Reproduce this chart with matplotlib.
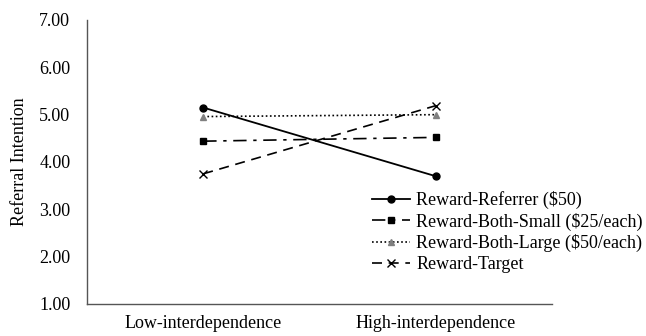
import matplotlib.pyplot as plt

plt.rcParams['font.family'] = ['Liberation Serif', 'DejaVu Serif']

conditions = ['Low-interdependence', 'High-interdependence']
referrer = [5.15, 3.70]
both_small = [4.44, 4.52]
both_large = [4.96, 5.00]
target = [3.75, 5.19]

fig = plt.figure(figsize=(6.46, 3.36), dpi=100)
ax = fig.add_axes([87 / 646, 32 / 336, 465 / 646, 284 / 336])

x = [0, 1]
ax.plot(x, referrer, color='black', lw=1.3, ls='-', marker='o', ms=5,
        label='Reward-Referrer ($50)')
ax.plot(x, both_small, color='black', lw=1.2, ls=(0, (8, 4, 2, 4)), marker='s', ms=5,
        label='Reward-Both-Small ($25/each)')
ax.plot(x, both_large, color='black', lw=1.2, ls=(0, (1, 1.5)), marker='^', ms=4.5,
        mfc='#808080', mec='#808080', label='Reward-Both-Large ($50/each)')
ax.plot(x, target, color='black', lw=1.2, ls=(0, (6, 4)), marker='x', ms=6,
        mew=1.0, label='Reward-Target')

ax.set_xlim(-0.5, 1.5)
ax.set_ylim(1, 7)
ax.set_xticks(x)
ax.set_xticklabels(conditions, fontsize=13)
ax.set_yticks([1, 2, 3, 4, 5, 6, 7])
ax.set_yticklabels(['%.2f' % v for v in range(1, 8)], fontsize=13)
ax.tick_params(axis='y', length=0, pad=12)
ax.tick_params(axis='x', length=0, pad=8)
ax.set_ylabel('Referral Intention', fontsize=13, labelpad=8)

for side in ['top', 'right']:
    ax.spines[side].set_visible(False)
for side in ['left', 'bottom']:
    ax.spines[side].set_color('#555555')
    ax.spines[side].set_linewidth(1.0)

ax.legend(loc='upper left', bbox_to_anchor=(372 / 646, 1 - 191 / 336),
          bbox_transform=fig.transFigure, frameon=False, borderpad=0,
          borderaxespad=0, fontsize=13, handlelength=2.1, handletextpad=0.35,
          labelspacing=0.2)

fig.savefig('out.png', dpi=100)
